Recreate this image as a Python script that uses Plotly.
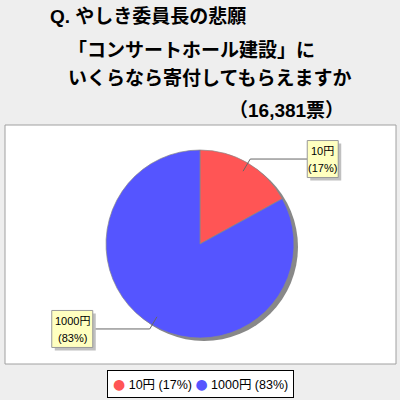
import math
import plotly.graph_objects as go

# データ
labels = ["10円", "1000円"]
values = [17, 83]
colors = ["#FF5555", "#5555FF"]
total_votes = "16,381"

title_lines = [
    "Q. やしき委員長の悲願",
    "「コンサートホール建設」に",
    "いくらなら寄付してもらえますか",
    f"（{total_votes}票）",
]

W, H = 400, 400
# 円の中心と半径 (px)
cx, cy, r = 200, 244, 94
FONT = "Liberation Sans, Noto Sans CJK JP"


def px(x):
    return x / W


def py(y):
    return 1 - y / H


fig = go.Figure()

# 影
fig.add_trace(go.Pie(
    values=[1], marker=dict(colors=["#888888"]),
    domain=dict(x=[px(cx - r + 4), px(cx + r + 4)], y=[py(cy + r + 3), py(cy - r + 3)]),
    textinfo="none", hoverinfo="skip", showlegend=False, sort=False,
))

fig.add_trace(go.Pie(
    labels=labels, values=values,
    marker=dict(colors=colors, line=dict(color="#888888", width=0.7)),
    domain=dict(x=[px(cx - r), px(cx + r)], y=[py(cy + r), py(cy - r)]),
    direction="clockwise", sort=False, rotation=0,
    textinfo="none", showlegend=False,
))

pct = [round(v / sum(values) * 100) for v in values]

shapes = [
    dict(type="rect", xref="paper", yref="paper",
         x0=px(5), x1=px(396), y0=py(364), y1=py(125),
         fillcolor="white", line=dict(color="#A0A0A0", width=1), layer="below"),
]
annotations = []

# ラベルと引き出し線
cum = 0
for lab, v, p in zip(labels, values, pct):
    mid = (cum + v / 2) / sum(values) * 2 * math.pi
    cum += v
    sx, sy = math.sin(mid), -math.cos(mid)
    x1, y1 = cx + 0.9 * r * sx, cy + 0.9 * r * sy
    x2, y2 = cx + 1.05 * r * sx, cy + 1.05 * r * sy
    side = 1 if sx >= 0 else -1
    x3 = x2 + 57 * side
    shapes.append(dict(type="path", xref="paper", yref="paper",
                       path=f"M {px(x1)},{py(y1)} L {px(x2)},{py(y2)} L {px(x3)},{py(y2)}",
                       line=dict(color="#666666", width=1)))
    bw = 16 + 5 * len(lab)
    bx0, bx1 = (x3, x3 + bw) if side > 0 else (x3 - bw, x3)
    by0, by1 = y2 - 18.5, y2 + 18.5
    # 影とボックス
    shapes.append(dict(type="rect", xref="paper", yref="paper",
                       x0=px(bx0 + 3), x1=px(bx1 + 3), y0=py(by1 + 3), y1=py(by0 + 3),
                       fillcolor="#C0C0C0", line=dict(width=0)))
    shapes.append(dict(type="rect", xref="paper", yref="paper",
                       x0=px(bx0), x1=px(bx1), y0=py(by1), y1=py(by0),
                       fillcolor="#FFFFC0", line=dict(color="#999999", width=1)))
    bxc = (bx0 + bx1) / 2
    for t, dy in ((lab, -8), (f"({p}%)", 9)):
        annotations.append(dict(
            x=px(bxc), y=py(y2 + dy), xref="paper", yref="paper", text=t,
            showarrow=False, xanchor="center", yanchor="middle",
            font=dict(size=11, color="black", family=FONT),
        ))

# 凡例
legend_txt = " ".join(
    f'<span style="color:{c};font-size:14px;font-family:DejaVu Sans">●</span> {lab} ({p}%)'
    for lab, p, c in zip(labels, pct, colors)
)
annotations.append(dict(
    x=0.5, y=py(384), xref="paper", yref="paper", text=legend_txt,
    showarrow=False, xanchor="center", yanchor="middle",
    font=dict(size=12.5, color="black", family=FONT),
    bgcolor="white", bordercolor="black", borderwidth=1, borderpad=5,
))

# タイトル
title_pos = [(48, 17, "left"), (66, 50, "left"), (66, 78, "left"), (346, 110, "right")]
for line, (tx, ty, xa) in zip(title_lines, title_pos):
    annotations.append(dict(
        x=px(tx), y=py(ty), xref="paper", yref="paper", text=f"<b>{line}</b>",
        showarrow=False, xanchor=xa, yanchor="middle",
        font=dict(size=19, color="black", family=FONT),
    ))

fig.update_layout(
    width=W, height=H,
    margin=dict(l=0, r=0, t=0, b=0),
    paper_bgcolor="#EEEEEE", plot_bgcolor="#EEEEEE",
    shapes=shapes, annotations=annotations,
)

fig.write_html("out.html", config={"displayModeBar": False},
               post_script="document.body.style.margin='0';")
